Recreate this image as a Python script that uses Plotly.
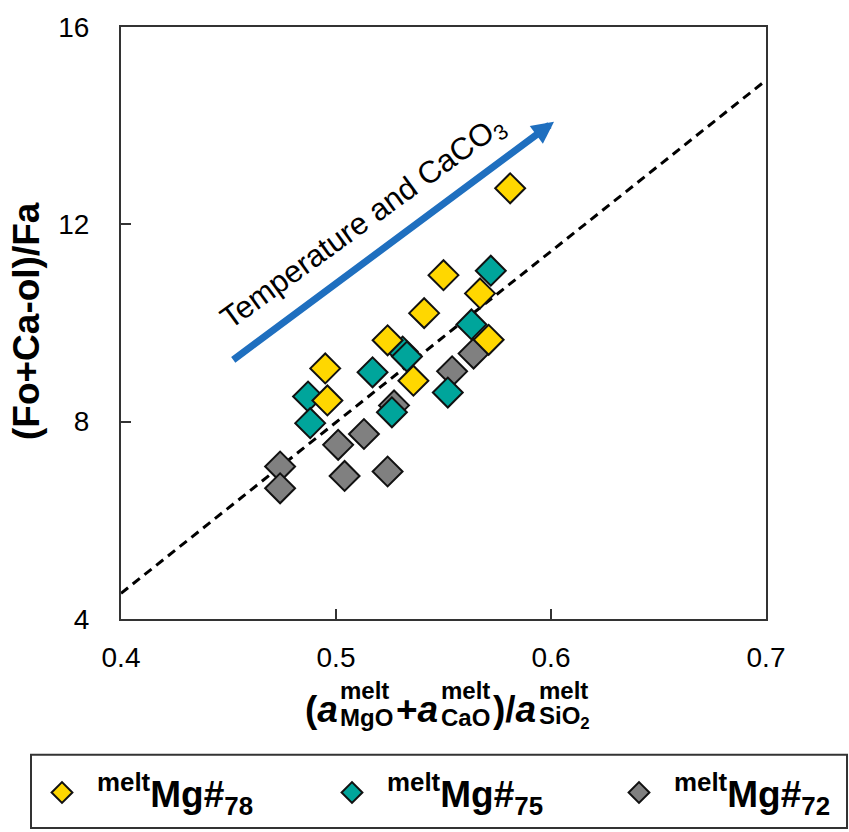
import plotly.graph_objects as go

# ---- data ----
mg78_x = [0.581, 0.550, 0.567, 0.541, 0.571, 0.524, 0.536, 0.495, 0.496]
mg78_y = [12.73, 10.97, 10.60, 10.20, 9.66, 9.65, 8.83, 9.08, 8.43]

mg75_x = [0.572, 0.563, 0.531, 0.533, 0.517, 0.552, 0.487, 0.488, 0.526]
mg75_y = [11.06, 9.97, 9.42, 9.32, 9.00, 8.59, 8.51, 7.97, 8.19]

mg72_x = [0.564, 0.554, 0.527, 0.501, 0.513, 0.474, 0.474, 0.504, 0.524]
mg72_y = [9.38, 9.02, 8.33, 7.53, 7.75, 7.09, 6.65, 6.90, 6.99]

trend_x = [0.40, 0.70]
trend_y = [4.52, 14.92]

arrow_tail = (0.4515, 9.23)
arrow_tip = (0.6014, 14.08)

x_ticks = [0.4, 0.5, 0.6, 0.7]
x_ticklabels = ["0.4", "0.5", "0.6", "0.7"]
y_ticks = [4, 8, 12, 16]
y_ticklabels = ["4", "8", "12", "16"]

FONT = "Liberation Sans, Arial, Helvetica, sans-serif"
W, H = 849, 832
L, R, T, B = 121, 766, 21, 619  # plot area in pixels


def pxx(p):
    return (p - L) / (R - L)


def pxy(p):
    return (B - p) / (B - T)


fig = go.Figure()

fig.add_trace(go.Scatter(
    x=trend_x, y=trend_y, mode="lines",
    line=dict(color="black", width=3, dash="9px,6px"),
    showlegend=False, hoverinfo="skip"))

marker_line = dict(color="#111111", width=2)
fig.add_trace(go.Scatter(
    x=mg72_x, y=mg72_y, mode="markers", name="<b><sup>melt</sup>Mg#<sub>72</sub></b>",
    marker=dict(symbol="diamond", size=23, color="#808080", line=marker_line),
    legend="legend3"))
fig.add_trace(go.Scatter(
    x=mg75_x, y=mg75_y, mode="markers", name="<b><sup>melt</sup>Mg#<sub>75</sub></b>",
    marker=dict(symbol="diamond", size=23, color="#00A59B", line=marker_line),
    legend="legend2"))
fig.add_trace(go.Scatter(
    x=mg78_x, y=mg78_y, mode="markers", name="<b><sup>melt</sup>Mg#<sub>78</sub></b>",
    marker=dict(symbol="diamond", size=23, color="#FFD700", line=marker_line),
    legend="legend"))

annotations = []
# blue arrow
annotations.append(dict(
    x=arrow_tip[0], y=arrow_tip[1], ax=arrow_tail[0], ay=arrow_tail[1],
    xref="x", yref="y", axref="x", ayref="y", text="", showarrow=True,
    arrowhead=2, arrowsize=0.63, arrowwidth=7, arrowcolor="#1F6FBF"))
# arrow label
annotations.append(dict(
    x=0.513, y=12.02, xref="x", yref="y", showarrow=False,
    text="Temperature and CaCO<sub>3</sub>", textangle=-36,
    font=dict(family=FONT, size=31, color="black")))

# y axis title
annotations.append(dict(
    x=pxx(26), y=pxy(318), xref="paper", yref="paper", showarrow=False,
    text="<b>(Fo+Ca-ol)/Fa</b>", textangle=-90,
    xanchor="center", yanchor="middle",
    font=dict(family=FONT, size=37, color="black")))

# x axis title built from pieces (stacked super/subscripts)
MAIN, SMALL = 37, 24
main_c, sup_c, sub_c = 710, 691, 719
pieces = [
    ("main", "<b>(<i>a</i></b>", 33),
    ("stack", ("<b>melt</b>", "<b>MgO</b>"), 54),
    ("main", "<b>+<i>a</i></b>", 43),
    ("stack", ("<b>melt</b>", "<b>CaO</b>"), 50),
    ("main", "<b>)/<i>a</i></b>", 44),
    ("stack", ("<b>melt</b>", "<b>SiO<sub>2</sub></b>"), 52),
]
gap = 2
total = sum(p[2] for p in pieces) + gap * (len(pieces) - 1)
cur = 446 - total / 2
for kind, txt, w in pieces:
    if kind == "main":
        annotations.append(dict(
            x=pxx(cur), y=pxy(main_c), xref="paper", yref="paper",
            xanchor="left", yanchor="middle", showarrow=False, text=txt,
            font=dict(family=FONT, size=MAIN, color="black")))
    else:
        annotations.append(dict(
            x=pxx(cur), y=pxy(sup_c), xref="paper", yref="paper",
            xanchor="left", yanchor="middle", showarrow=False, text=txt[0],
            font=dict(family=FONT, size=SMALL, color="black")))
        annotations.append(dict(
            x=pxx(cur), y=pxy(sub_c), xref="paper", yref="paper",
            xanchor="left", yanchor="middle", showarrow=False, text=txt[1],
            font=dict(family=FONT, size=SMALL, color="black")))
    cur += w + gap


def legend_at(left_px):
    return dict(
        orientation="h", xref="container", yref="container",
        x=left_px / W, y=1 - 793 / H, xanchor="left", yanchor="middle",
        font=dict(family=FONT, size=37, color="black"),
        bgcolor="rgba(0,0,0,0)", borderwidth=0, itemwidth=60)


fig.update_layout(
    width=W, height=H,
    margin=dict(l=L, r=W - R, t=T, b=H - B, pad=0),
    paper_bgcolor="white", plot_bgcolor="white",
    font=dict(family=FONT, color="black"),
    annotations=annotations,
    shapes=[dict(type="rect", xref="paper", yref="paper",
                 x0=pxx(31), x1=pxx(847), y0=pxy(830), y1=pxy(756),
                 line=dict(color="#333333", width=2), fillcolor="rgba(0,0,0,0)")],
    legend=legend_at(27),
    legend2=legend_at(317),
    legend3=legend_at(604),
    xaxis=dict(
        range=[0.4, 0.7], tickvals=x_ticks, ticktext=x_ticklabels,
        ticks="inside", ticklen=10, tickwidth=1.5, tickcolor="#333333",
        showline=True, linecolor="#333333", linewidth=2, mirror=True,
        showgrid=False, zeroline=False, ticklabelstandoff=12,
        tickfont=dict(family=FONT, size=28, color="black")),
    yaxis=dict(
        range=[4, 16], tickvals=y_ticks, ticktext=y_ticklabels,
        ticks="inside", ticklen=10, tickwidth=1.5, tickcolor="#333333",
        showline=True, linecolor="#333333", linewidth=2, mirror=True,
        showgrid=False, zeroline=False, ticklabelstandoff=24,
        tickfont=dict(family=FONT, size=28, color="black")),
)

fig.write_html("out.html", config={"displayModeBar": False},
               post_script="document.body.style.margin='0';document.body.style.padding='0';")
